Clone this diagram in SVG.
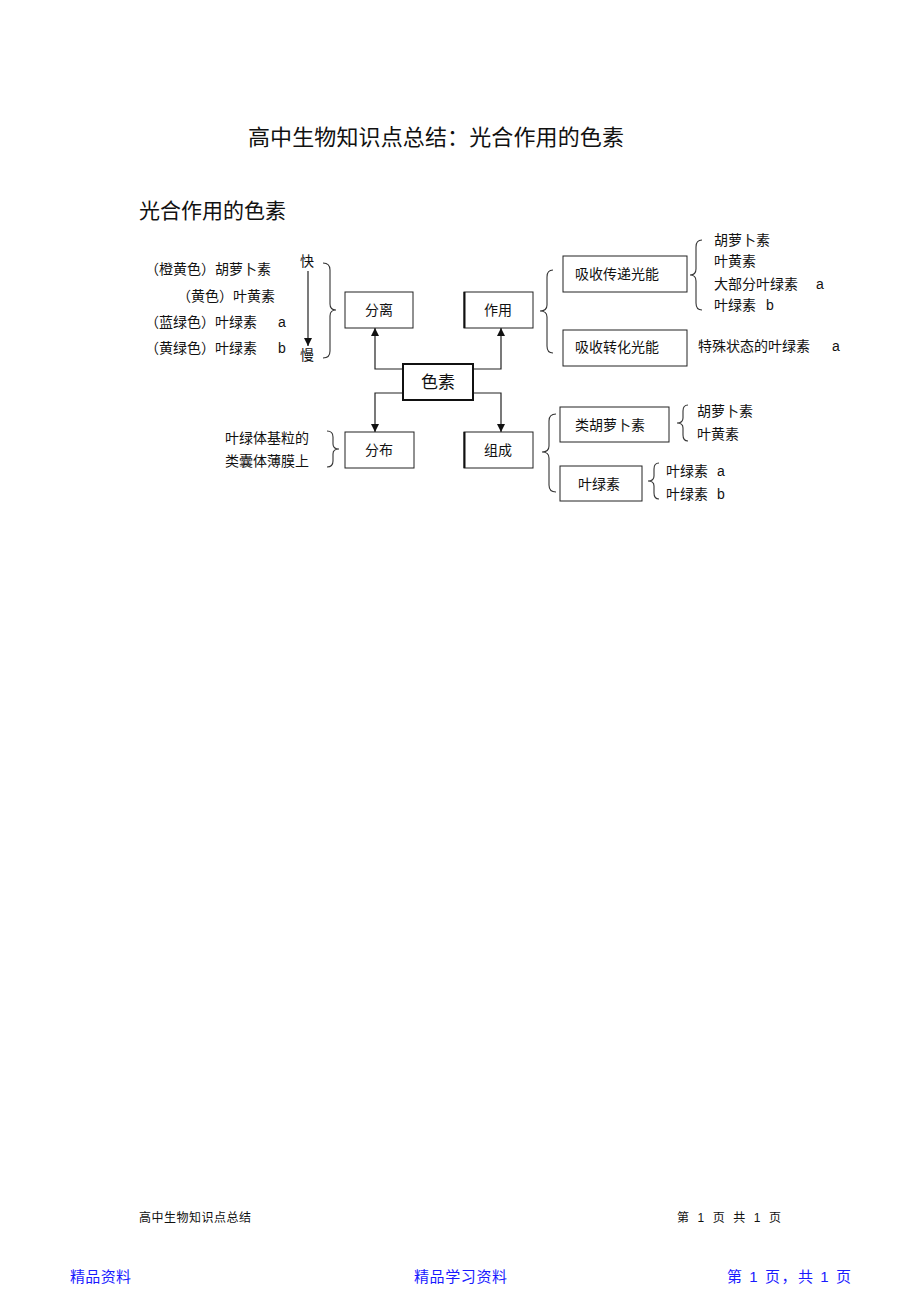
<svg xmlns="http://www.w3.org/2000/svg" width="920" height="1303" viewBox="0 0 920 1303">
<defs>
<style>
text{font-family:"Liberation Sans","Noto Sans CJK SC",sans-serif;fill:#111}
.t14{font-size:14px}
.box{fill:#fff;stroke:#222;stroke-width:1}
.ln{fill:none;stroke:#222;stroke-width:1.2}
.br{fill:none;stroke:#333;stroke-width:1.1}
.blue{fill:#1a1aff;font-size:15px}
.foot{font-size:12px}
</style>
<marker id="ah" viewBox="0 0 10 10" refX="10" refY="5" markerWidth="9" markerHeight="8" markerUnits="userSpaceOnUse" orient="auto"><path d="M0,0 L10,5 L0,10 Z" fill="#111"/></marker>
</defs>
<rect width="920" height="1303" fill="#fff"/>
<text x="248" y="145" font-size="22" textLength="376" lengthAdjust="spacing">高中生物知识点总结：光合作用的色素</text>
<text x="139" y="218" font-size="21" textLength="147" lengthAdjust="spacing">光合作用的色素</text>

<g id="connectors">
<path class="ln" d="M403,369 H375 V328" marker-end="url(#ah)"/>
<path class="ln" d="M473,369 H501 V328" marker-end="url(#ah)"/>
<path class="ln" d="M403,393 H375 V432" marker-end="url(#ah)"/>
<path class="ln" d="M473,393 H501 V432" marker-end="url(#ah)"/>
<path class="ln" d="M308,271 V346" marker-end="url(#ah)"/>
<path class="br" d="M323,263 Q330,263 330,270 L330,304 Q330,310 336,310 Q330,310 330,316 L330,351 Q330,358 323,358"/>
<path class="br" d="M327,431 Q333,431 333,437 L333,444 Q333,449 339,449 Q333,449 333,454 L333,461 Q333,467 327,467"/>
<path class="br" d="M553,270 Q547,270 547,277 L547,305 Q547,311 540,311 Q547,311 547,317 L547,346 Q547,353 553,353"/>
<path class="br" d="M702,240 Q696,240 696,247 L696,269 Q696,275 690,275 Q696,275 696,281 L696,303 Q696,310 702,310"/>
<path class="br" d="M556,414 Q549,414 549,421 L549,446 Q549,452 542,452 Q549,452 549,458 L549,485 Q549,492 556,492"/>
<path class="br" d="M688,405 Q683,405 683,411 L683,418 Q683,423 677,423 Q683,423 683,428 L683,435 Q683,441 688,441"/>
<path class="br" d="M659,463 Q654,463 654,469 L654,476 Q654,481 648,481 Q654,481 654,486 L654,493 Q654,499 659,499"/>
</g>

<g id="node-sezu">
<rect x="403" y="364" width="70" height="36" fill="#fff" stroke="#111" stroke-width="2"/>
<text x="438" y="388" font-size="17" text-anchor="middle">色素</text>
</g>
<g id="node-fenli">
<rect class="box" x="345" y="292" width="68" height="36"/>
<text class="t14" x="379" y="315" text-anchor="middle">分离</text>
</g>
<g id="node-zuoyong">
<rect class="box" x="464" y="292" width="69" height="36"/>
<line x1="464.5" y1="292" x2="464.5" y2="328" stroke="#111" stroke-width="2"/>
<text class="t14" x="498" y="315" text-anchor="middle">作用</text>
</g>
<g id="node-fenbu">
<rect class="box" x="345" y="432" width="69" height="36"/>
<text class="t14" x="379" y="455" text-anchor="middle">分布</text>
</g>
<g id="node-zucheng">
<rect class="box" x="464" y="432" width="69" height="36"/>
<line x1="464.5" y1="432" x2="464.5" y2="468" stroke="#111" stroke-width="2"/>
<text class="t14" x="498" y="455" text-anchor="middle">组成</text>
</g>
<g id="node-xishouchuandi">
<rect class="box" x="563" y="256" width="124" height="36"/>
<text class="t14" x="575" y="279">吸收传递光能</text>
</g>
<g id="node-xishouzhuanhua">
<rect class="box" x="563" y="330" width="124" height="36"/>
<text class="t14" x="575" y="352">吸收转化光能</text>
</g>
<g id="node-leihuluobosu">
<rect class="box" x="560" y="407" width="109" height="35"/>
<text class="t14" x="575" y="430">类胡萝卜素</text>
</g>
<g id="node-yelvsu">
<rect class="box" x="560" y="466" width="82" height="35"/>
<text class="t14" x="578" y="489">叶绿素</text>
</g>

<g id="left-list">
<text class="t14" x="145" y="274">（橙黄色）胡萝卜素</text>
<text class="t14" x="177" y="301">（黄色）叶黄素</text>
<text class="t14" x="145" y="327">（蓝绿色）叶绿素</text>
<text class="t14" x="278" y="327">a</text>
<text class="t14" x="145" y="353">（黄绿色）叶绿素</text>
<text class="t14" x="278" y="353">b</text>
<text class="t14" x="300" y="266">快</text>
<text class="t14" x="300" y="360">慢</text>
</g>
<g id="right-list">
<text class="t14" x="714" y="245">胡萝卜素</text>
<text class="t14" x="714" y="266">叶黄素</text>
<text class="t14" x="714" y="289">大部分叶绿素</text>
<text class="t14" x="816" y="289">a</text>
<text class="t14" x="714" y="310">叶绿素</text>
<text class="t14" x="766" y="310">b</text>
<text class="t14" x="698" y="351">特殊状态的叶绿素</text>
<text class="t14" x="832" y="351">a</text>
</g>
<g id="distribution-text">
<text class="t14" x="225" y="443">叶绿体基粒的</text>
<text class="t14" x="225" y="466">类囊体薄膜上</text>
</g>
<g id="composition-text">
<text class="t14" x="697" y="416">胡萝卜素</text>
<text class="t14" x="697" y="439">叶黄素</text>
<text class="t14" x="666" y="476">叶绿素</text>
<text class="t14" x="717" y="476">a</text>
<text class="t14" x="666" y="499">叶绿素</text>
<text class="t14" x="717" y="499">b</text>
</g>

<text class="foot" x="139" y="1222" textLength="112" lengthAdjust="spacing">高中生物知识点总结</text>
<text class="foot" x="677" y="1222" textLength="104" lengthAdjust="spacing">第 1 页 共 1 页</text>
<text class="blue" x="70" y="1282" textLength="61" lengthAdjust="spacing">精品资料</text>
<text class="blue" x="414" y="1282" textLength="93" lengthAdjust="spacing">精品学习资料</text>
<text class="blue" x="727" y="1282" textLength="124" lengthAdjust="spacing">第 1 页，共 1 页</text>
</svg>
